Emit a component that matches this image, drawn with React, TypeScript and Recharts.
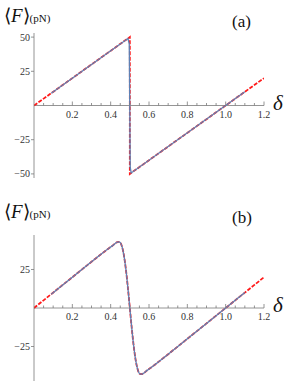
import { LineChart, Line, XAxis, YAxis, ReferenceLine } from "recharts";

const W = 291;
const H = 196;
const AXIS = "#7a7a7a";
const RED = "#ff1a1a";
const BLUE = "#5e81b5";
const SERIF = "'Liberation Serif', 'Times New Roman', serif";

// x ticks: minor every 0.05, labelled every 0.2
const X_TICKS = [
  0.05, 0.1, 0.15, 0.2, 0.25, 0.3, 0.35, 0.4, 0.45, 0.5, 0.55, 0.6,
  0.65, 0.7, 0.75, 0.8, 0.85, 0.9, 0.95, 1.0, 1.05, 1.1, 1.15, 1.2,
];
const X_LABELS = [0.2, 0.4, 0.6, 0.8, 1.0, 1.2];

// panel (a): sharp jump
const DELTA_A_RED = [0, 0.5, 0.5, 1.2];
const F_A_RED = [0, 50, -50, 20];
const DELTA_A_BLUE = [0.09, 0.49, 0.497, 0.502, 0.507, 1.1];
const F_A_BLUE = [9, 49, 45, -45, -49.3, 10];
const Y_TICKS_A = [-50, -25, 25, 50];

// panel (b): smooth transition
const DELTA_B = [
  0, 0.09, 0.2, 0.3, 0.38, 0.41, 0.43, 0.44, 0.45, 0.46, 0.47, 0.48, 0.49,
  0.5, 0.51, 0.52, 0.53, 0.54, 0.55, 0.56, 0.57, 0.59, 0.62, 0.7, 0.8, 0.9,
  1.0, 1.1, 1.2,
];
const F_B = [
  0, 9, 20, 30, 37.8, 40.5, 42.5, 43, 42.5, 39.5, 33.5, 24.5, 13,
  0, -13, -24.5, -33.5, -39.5, -42.5, -43, -42.5, -40.5, -37.8, -30, -20, -10,
  0, 10, 20,
];
const Y_TICKS_B = [-25, 25];

const zip = (xs: number[], ys: number[]) => xs.map((d, i) => ({ d, f: ys[i] }));

const fmtY = (v: number) => (v < 0 ? `\u2212${Math.abs(v)}` : `${v}`);

type PanelProps = {
  red: { d: number; f: number }[];
  blue: { d: number; f: number }[];
  yDomain: [number, number];
  yTicks: number[];
  top: number;
  bottom: number;
  tag: string;
  smooth?: boolean;
};

function Panel({ red, blue, yDomain, yTicks, top, bottom, tag, smooth }: PanelProps) {
  const plotH = H - top - bottom;
  const zeroY = top + (plotH * yDomain[1]) / (yDomain[1] - yDomain[0]);

  const XTick = (props: any) => {
    const { x, payload } = props;
    const v = payload.value as number;
    const major = X_LABELS.some((l) => Math.abs(l - v) < 1e-6);
    return (
      <g>
        <line x1={x} x2={x} y1={zeroY} y2={zeroY - (major ? 4 : 2.5)} stroke={AXIS} strokeWidth={0.8} />
        {major && (
          <text x={x} y={zeroY + 12} textAnchor="middle" style={{ fontSize: 10, fontFamily: SERIF }} fill="#333">
            {v.toFixed(1)}
          </text>
        )}
      </g>
    );
  };

  return (
    <div style={{ position: "relative", width: W, height: H }}>
      <LineChart width={W} height={H} margin={{ top, right: 27, bottom: 0, left: 0 }}>
        <XAxis
          dataKey="d"
          type="number"
          domain={[0, 1.2]}
          ticks={X_TICKS}
          interval={0}
          height={bottom}
          axisLine={false}
          tickLine={false}
          tick={XTick}
          allowDataOverflow
        />
        <YAxis
          type="number"
          domain={yDomain}
          ticks={yTicks}
          width={34}
          allowDataOverflow
          interval={0}
          axisLine={{ stroke: AXIS, strokeWidth: 0.8 }}
          tickLine={{ stroke: AXIS, strokeWidth: 0.8 }}
          tickSize={3}
          tickMargin={1}
          tickFormatter={fmtY}
          tick={{ fontSize: 10, fill: "#333", style: { fontFamily: SERIF } }}
        />
        <ReferenceLine y={0} stroke={AXIS} strokeWidth={0.8} />
        <Line
          data={red}
          dataKey="f"
          type={smooth ? "monotone" : "linear"}
          stroke={RED}
          strokeWidth={1.8}
          strokeDasharray="4 1.5"
          dot={false}
          isAnimationActive={false}
        />
        <Line
          data={blue}
          dataKey="f"
          type={smooth ? "monotone" : "linear"}
          stroke={BLUE}
          strokeWidth={1.3}
          dot={false}
          isAnimationActive={false}
        />
      </LineChart>
      <div style={{ position: "absolute", left: 4, top: 4, fontFamily: SERIF, color: "#111", whiteSpace: "nowrap" }}>
        <span style={{ fontSize: 19 }}>
          {"\u27E8"}
          <i>F</i>
          {"\u27E9"}
        </span>
        <span style={{ fontSize: 11 }}>(pN)</span>
      </div>
      <div style={{ position: "absolute", left: 232, top: 12, fontFamily: SERIF, fontSize: 17, color: "#111" }}>
        {tag}
      </div>
      <div
        style={{
          position: "absolute",
          left: 273,
          top: zeroY - 15,
          fontFamily: SERIF,
          fontSize: 21,
          fontStyle: "italic",
          color: "#111",
        }}
      >
        δ
      </div>
    </div>
  );
}

export default function App() {
  const redA = zip(DELTA_A_RED, F_A_RED);
  const blueA = zip(DELTA_A_BLUE, F_A_BLUE);
  const curveB = zip(DELTA_B, F_B);
  const blueB = curveB.filter((p) => p.d >= 0.09 && p.d <= 1.1);
  return (
    <div style={{ position: "absolute", left: 0, top: 0, width: W, height: 2 * H, background: "#fff" }}>
      <Panel red={redA} blue={blueA} yDomain={[-53, 53]} yTicks={Y_TICKS_A} top={33} bottom={18} tag="(a)" />
      <Panel
        red={curveB}
        blue={blueB}
        yDomain={[-47.4, 47.4]}
        yTicks={Y_TICKS_B}
        top={39}
        bottom={11}
        tag="(b)"
        smooth
      />
    </div>
  );
}
